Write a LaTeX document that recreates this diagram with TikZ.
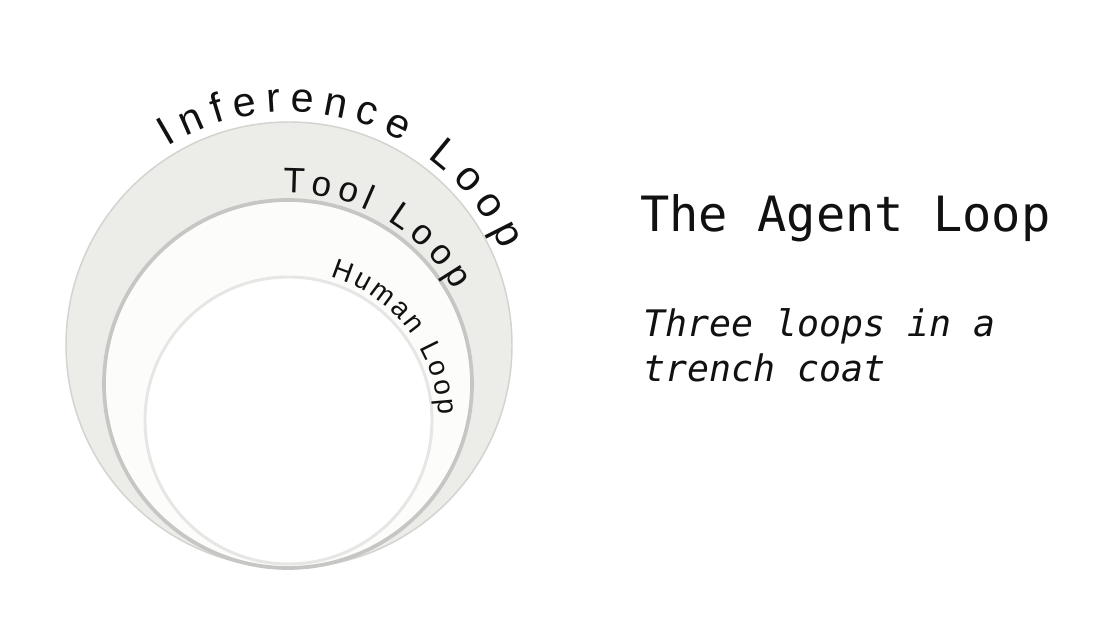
\documentclass[tikz,border=0pt]{standalone}
\usepackage{fontspec}
\setmainfont{Liberation Sans}
\newfontfamily\monofont{DejaVu Sans Mono}
\usetikzlibrary{calc,decorations.text}

\definecolor{inffill}{HTML}{ECECE9}
\definecolor{infline}{HTML}{D3D3D0}
\definecolor{toolfill}{HTML}{FCFCFA}
\definecolor{toolline}{HTML}{C6C6C4}
\definecolor{humline}{HTML}{E6E6E4}
\definecolor{ink}{HTML}{111111}

\tikzset{
  looplabel/.style={decorate, decoration={text along path, text align={fit to path}, text color=ink}}
}

\begin{document}
\begin{tikzpicture}[x=0.75pt,y=0.75pt]
	\useasboundingbox (0,0) rectangle (1120,630);
	\fill[white] (0,0) rectangle (1120,630);

	% centres of the three loops
	\coordinate (inf) at (289,285);
	\coordinate (tool) at (288,246);
	\coordinate (hum) at (288.5,209.5);

	\draw[infline, fill=inffill, line width=1.1pt] (inf) circle[radius=223];
	\draw[toolline, fill=toolfill, line width=2.8pt] (tool) circle[radius=184];
	\draw[humline, fill=white, line width=2.2pt] (hum) circle[radius=143.5];

	% curved labels
	\path[looplabel, decoration={text={|\fontsize{31}{33}\selectfont|Inference Loop}}]
		($(inf)+(121.5:233)$) arc[start angle=121.5, end angle=24, radius=233];
	\path[looplabel, decoration={text={|\fontsize{26.5}{28}\selectfont|Tool Loop}}]
		($(tool)+(91.5:191)$) arc[start angle=91.5, end angle=29.5, radius=191];
	\path[looplabel, decoration={text={|\fontsize{21}{23}\selectfont|Human Loop}}]
		($(hum)+(73.7:150)$) arc[start angle=73.7, end angle=2, radius=150];

	% title and subtitle
	\node[anchor=base west, inner sep=0pt, text=ink, font=\monofont\fontsize{36.5}{40}\selectfont] (title) at (640,398) {The Agent Loop};
	\node[anchor=base west, inner sep=0pt, text=ink, align=left, font=\monofont\itshape\fontsize{27.4}{33.75}\selectfont] (subtitle) at (643,248) {Three loops in a\\trench coat};
\end{tikzpicture}
\end{document}
